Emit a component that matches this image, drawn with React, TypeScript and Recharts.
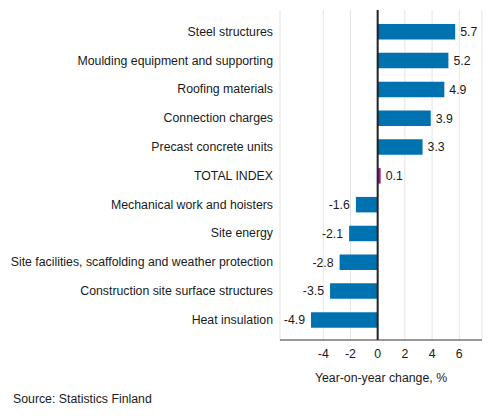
import React from "react";
import {
  BarChart,
  Bar,
  XAxis,
  YAxis,
  CartesianGrid,
  ReferenceLine,
  Cell,
  LabelList,
} from "recharts";

const categories = [
  "Steel structures",
  "Moulding equipment and supporting",
  "Roofing materials",
  "Connection charges",
  "Precast concrete units",
  "TOTAL INDEX",
  "Mechanical work and hoisters",
  "Site energy",
  "Site facilities, scaffolding and weather protection",
  "Construction site surface structures",
  "Heat insulation",
];

const values = [5.7, 5.2, 4.9, 3.9, 3.3, 0.1, -1.6, -2.1, -2.8, -3.5, -4.9];

const xTicks = [-4, -2, 0, 2, 4, 6];

const axisTitle = "Year-on-year change, %";
const sourceText = "Source: Statistics Finland";

const data = categories.map((name, i) => ({ name, value: values[i] }));

const FONT = "'Liberation Sans', Arial, sans-serif";
const FS = 12.3;
const TEXT = "#1a1a1a";
const BLUE = "#0072b0";
const PURPLE = "#a3179d";

const ValueLabel = (props: any) => {
  const { x, y, width, height, value } = props;
  const x0 = Number(x);
  const w = Number(width);
  const left = Math.min(x0, x0 + w);
  const right = Math.max(x0, x0 + w);
  const cy = Number(y) + Number(height) / 2;
  const pos = Number(value) >= 0;
  return (
    <text
      x={pos ? right + 5 : left - 6}
      y={cy}
      dy="0.35em"
      textAnchor={pos ? "start" : "end"}
      fontSize={FS}
      fontFamily={FONT}
      fill={TEXT}
    >
      {String(value)}
    </text>
  );
};

const CategoryTick = (props: any) => {
  const { x, y, payload } = props;
  return (
    <text
      x={Number(x)}
      y={Number(y)}
      dy="0.35em"
      textAnchor="end"
      fontSize={FS}
      fontFamily={FONT}
      fill={TEXT}
    >
      {payload.value}
    </text>
  );
};

export default function App() {
  return (
    <div style={{ position: "absolute", left: 0, top: 0, width: 493, height: 416, background: "#fff" }}>
      <BarChart
        width={493}
        height={416}
        data={data}
        layout="vertical"
        margin={{ top: 10, right: 11, left: 0, bottom: 46 }}
      >
        <CartesianGrid horizontal={false} vertical={true} stroke="#e3e3e3" strokeWidth={1} />
        <XAxis
          type="number"
          domain={[-7.18, 7.67]}
          ticks={xTicks}
          allowDataOverflow
          axisLine={{ stroke: "#333", strokeWidth: 1 }}
          tickLine={false}
          tickSize={0}
          tickMargin={9}
          height={30}
          tick={{ fontSize: FS, fontFamily: FONT, fill: TEXT }}
          label={{
            value: axisTitle,
            position: "bottom",
            offset: 3,
            style: { fontSize: FS, fontFamily: FONT, fill: TEXT },
          }}
        />
        <YAxis
          type="category"
          dataKey="name"
          width={280}
          axisLine={false}
          tickLine={false}
          tickSize={0}
          tickMargin={7}
          interval={0}
          padding={{ top: 7, bottom: 6 }}
          tick={<CategoryTick />}
        />
        <Bar dataKey="value" barSize={15.5} minPointSize={3} isAnimationActive={false}>
          {data.map((d) => (
            <Cell key={d.name} fill={d.name === "TOTAL INDEX" ? PURPLE : BLUE} />
          ))}
          <LabelList dataKey="value" content={ValueLabel} />
        </Bar>
        <ReferenceLine x={0} stroke="#222" strokeWidth={2} />
      </BarChart>
      <div
        style={{
          position: "absolute",
          left: 13,
          top: 392,
          fontSize: FS,
          fontFamily: FONT,
          color: TEXT,
          whiteSpace: "nowrap",
        }}
      >
        {sourceText}
      </div>
    </div>
  );
}
